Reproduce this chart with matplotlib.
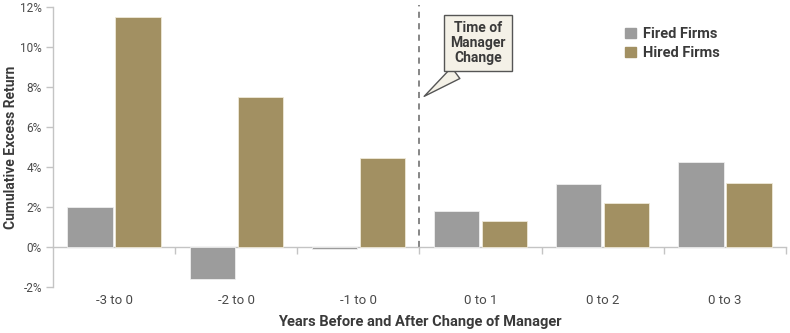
import matplotlib
matplotlib.use("Agg")
import matplotlib.pyplot as plt
import numpy as np
from matplotlib.patches import Patch

plt.rcParams['font.family'] = ['Roboto', 'DejaVu Sans']

# Cumulative excess return (%) by window around the manager change
periods = ['-3 to 0', '-2 to 0', '-1 to 0', '0 to 1', '0 to 2', '0 to 3']
fired = [2.0, -1.6, -0.1, 1.8, 3.15, 4.25]
hired = [11.5, 7.5, 4.45, 1.3, 2.2, 3.2]

gray = '#9c9c9c'
gold = '#a29062'
axis_col = '#c4c4c4'
text_col = '#3a3a3a'

fig = plt.figure(figsize=(7.9, 3.33), dpi=100)
ax = fig.add_axes([0.067, 0.138, 0.928, 0.841])

x = np.arange(len(periods))
w = 0.37
ax.bar(x - 0.196, fired, w, color=gray, edgecolor='#eeeeee', linewidth=0.6, zorder=3)
ax.bar(x + 0.196, hired, w, color=gold, edgecolor='#efe9d8', linewidth=0.6, zorder=3)

ax.set_xlim(-0.5, len(periods) - 0.5)
ax.set_ylim(-2, 12)

# spines
for s in ['top', 'right']:
    ax.spines[s].set_visible(False)
ax.spines['left'].set_color(axis_col)
ax.spines['left'].set_linewidth(1.0)
ax.spines['bottom'].set_position(('data', 0))
ax.spines['bottom'].set_color(axis_col)
ax.spines['bottom'].set_linewidth(1.0)

# y ticks
yt = np.arange(-2, 13, 2)
ax.set_yticks(yt)
ax.set_yticklabels([f'{v}%' for v in yt])
ax.tick_params(axis='y', colors=axis_col, length=5, width=1.0, labelcolor='#4a4a4a',
               labelsize=8.5, pad=3)

# x ticks: marks at group boundaries, labels at group centres
ax.set_xticks(np.arange(0.5, len(periods), 1.0))
ax.set_xticklabels([])
ax.tick_params(axis='x', colors=axis_col, length=5, width=1.0, direction='out')
for xi, lab in zip(x, periods):
    ax.text(xi, -2.65, lab, ha='center', va='center', fontsize=9.5, color='#4a4a4a')

ax.text(2.5, -3.75, 'Years Before and After Change of Manager', ha='center', va='center',
        fontsize=10.5, fontweight='bold', color=text_col)
fig.text(11 / 790, 0.558, 'Cumulative Excess Return', rotation=90, ha='center',
         va='center', fontsize=10, fontweight='bold', color=text_col)

# time of manager change marker
ax.plot([2.5, 2.5], [0, 12.1], ls=(0, (4, 3.5)), color='#666666', lw=1.1, zorder=2,
        clip_on=False)
ax.annotate('Time of\nManager\nChange', xy=(2.52, 7.45), xytext=(2.98, 10.2),
            ha='center', va='center', fontsize=10, fontweight='bold', color=text_col,
            linespacing=1.05,
            bbox=dict(boxstyle='square,pad=0.45', fc='#f4f1e7', ec='#555555', lw=1.0),
            arrowprops=dict(arrowstyle='wedge,tail_width=1.0,shrink_factor=0.5',
                            relpos=(0.3, 0.0),
                            fc='#f4f1e7', ec='#555555', lw=1.0))

handles = [Patch(color=gray), Patch(color=gold)]
leg = ax.legend(handles, ['Fired Firms', 'Hired Firms'], loc='upper left',
                bbox_to_anchor=(0.762, 0.975), frameon=False, fontsize=10.5,
                handlelength=0.75, handleheight=0.75, handletextpad=0.5, labelspacing=0.35)
for t in leg.get_texts():
    t.set_fontweight('bold')
    t.set_color(text_col)

fig.savefig('out.png', dpi=100)
